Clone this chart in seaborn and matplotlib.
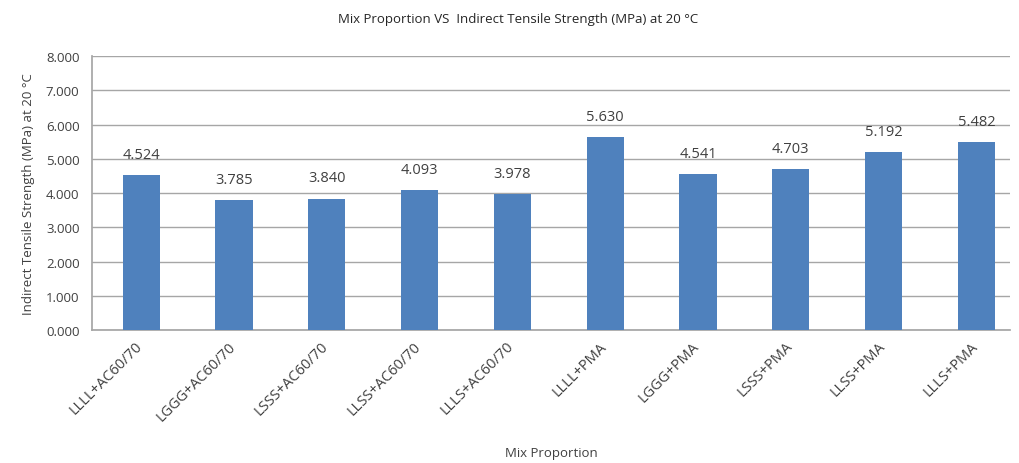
import matplotlib
matplotlib.use("Agg")
import matplotlib.pyplot as plt
import matplotlib.transforms as mtransforms
import seaborn as sns
import pandas as pd

mixes = ["LLLL+AC60/70", "LGGG+AC60/70", "LSSS+AC60/70", "LLSS+AC60/70", "LLLS+AC60/70",
         "LLLL+PMA", "LGGG+PMA", "LSSS+PMA", "LLSS+PMA", "LLLS+PMA"]
strength = [4.524, 3.785, 3.840, 4.093, 3.978, 5.630, 4.541, 4.703, 5.192, 5.482]
y_ticks = [0, 1, 2, 3, 4, 5, 6, 7, 8]

df = pd.DataFrame({"mix": mixes, "its": strength})

sns.set_theme(style="white")
plt.rcParams["font.family"] = ["Open Sans", "DejaVu Sans"]
text_color = "#404040"

fig = plt.figure(figsize=(10.19, 4.64), dpi=100)
ax = fig.add_axes([0.0903, 0.2866, 0.9007, 0.5905])

sns.barplot(data=df, x="mix", y="its", color="#4F81BD", saturation=1, width=0.4,
            linewidth=0, ax=ax, zorder=3)

ax.set_ylim(0, 8)
ax.set_yticks(y_ticks)
ax.set_yticklabels([f"{v:.3f}" for v in y_ticks], fontsize=9.5, color=text_color)
ax.set_xlim(-0.53, 9.36)
ax.yaxis.grid(True, color="#A6A6A6", linewidth=1.0, zorder=0)
ax.tick_params(axis="y", length=5, color="#A6A6A6", pad=4)
ax.tick_params(axis="x", length=0, pad=6)

for s in ["top", "right"]:
    ax.spines[s].set_visible(False)
ax.spines["left"].set_color("#A6A6A6")
ax.spines["bottom"].set_color("#A6A6A6")

# rotated category labels, nudged slightly left of each bar centre
shift = mtransforms.ScaledTranslation(-6 / 100, 0, fig.dpi_scale_trans)
for lbl in ax.get_xticklabels():
    lbl.set_rotation(45)
    lbl.set_ha("right")
    lbl.set_rotation_mode("anchor")
    lbl.set_fontsize(10.5)
    lbl.set_color(text_color)
    lbl.set_transform(lbl.get_transform() + shift)

for i, v in enumerate(strength):
    ax.text(i, v + 0.38, f"{v:.3f}", ha="center", va="bottom", fontsize=10.5, color=text_color)

ax.set_xlabel("Mix Proportion", fontsize=9.5, color=text_color, labelpad=16)
ax.set_ylabel("Indirect Tensile Strength (MPa) at 20 \u00b0C", fontsize=9.5, color=text_color, labelpad=8)
fig.text(0.508, 0.958, "Mix Proportion VS  Indirect Tensile Strength (MPa) at 20 \u00b0C",
         ha="center", va="center", fontsize=9.5, color="#262626")

fig.savefig("out.png", dpi=100)
